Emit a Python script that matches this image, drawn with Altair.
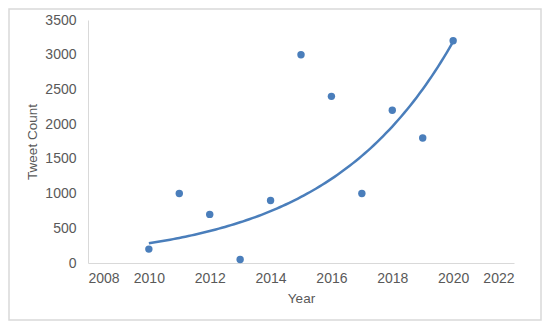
import altair as alt
import pandas as pd

years = [2010, 2011, 2012, 2013, 2014, 2015, 2016, 2017, 2018, 2019, 2020]
counts = [200, 1000, 700, 50, 900, 3000, 2400, 1000, 2200, 1800, 3200]
x_ticks = [2008, 2010, 2012, 2014, 2016, 2018, 2020, 2022]
y_ticks = [0, 500, 1000, 1500, 2000, 2500, 3000, 3500]

df = pd.DataFrame({"year": years, "count": counts})

BLUE = "#4a7ebb"
FONT = "Liberation Sans"
GREY = "#595959"


def xaxis():
    return alt.Axis(values=x_ticks, format="d", title="Year", grid=False, ticks=False,
                    domainColor="#d9d9d9", labelColor=GREY, labelFont=FONT, labelFontSize=14,
                    titleColor=GREY, titleFont=FONT, titleFontSize=13.5, titleFontWeight="normal",
                    labelPadding=8, titlePadding=6, labelOverlap=False)


def yaxis():
    return alt.Axis(values=y_ticks, format="d", title="Tweet Count", grid=False, ticks=False,
                    domainColor="#d9d9d9", labelColor=GREY, labelFont=FONT, labelFontSize=14,
                    titleColor=GREY, titleFont=FONT, titleFontSize=13.5, titleFontWeight="normal",
                    labelPadding=12, titlePadding=5, labelOverlap=False)


def xscale():
    return alt.Scale(domain=[2008, 2022], nice=False, zero=False)


def yscale():
    return alt.Scale(domain=[0, 3500], nice=False)


base = alt.Chart(df)

points = base.mark_circle(size=55, color=BLUE, opacity=1).encode(
    x=alt.X("year:Q", scale=xscale(), axis=xaxis()),
    y=alt.Y("count:Q", scale=yscale(), axis=yaxis()),
)

trend = base.transform_calculate(
    lny="log(datum.count)", xc="datum.year - 2015"
).transform_regression(
    "xc", "lny", method="linear", params=True
).transform_calculate(
    idx="sequence(0, 101)"
).transform_flatten(["idx"]).transform_calculate(
    xs="2010 + datum.idx / 10",
    fit="exp(datum.coef[0] + datum.coef[1] * (2010 + datum.idx / 10 - 2015))"
).mark_line(color=BLUE, strokeWidth=2.5).encode(
    x=alt.X("xs:Q", scale=xscale(), axis=xaxis()),
    y=alt.Y("fit:Q", scale=yscale(), axis=yaxis()),
)

border = alt.Chart(df).mark_rect(
    fill="white", fillOpacity=0, stroke="#d9d9d9", strokeWidth=1.5, clip=False
).encode(
    x=alt.value(-79), x2=alt.value(453), y=alt.value(-11), y2=alt.value(300)
).transform_filter("datum.year == 2010")

chart = alt.layer(border, trend, points).properties(
    width=426, height=243,
    autosize=alt.AutoSizeParams(type="none"),
    padding={"left": 80, "top": 12, "right": 28, "bottom": 58},
    background="white",
).configure_view(stroke=None)

chart.save("out.html", embed_options={"renderer": "svg", "actions": False})
